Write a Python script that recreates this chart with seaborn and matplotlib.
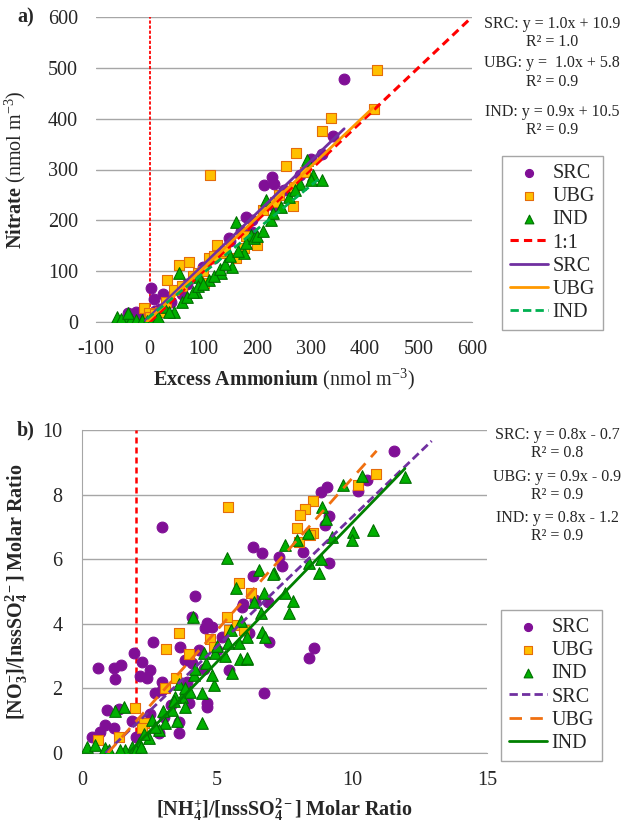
import numpy as np
import pandas as pd
import matplotlib
matplotlib.use("Agg")
import matplotlib.pyplot as plt
import seaborn as sns

# ---- panel a) data: excess ammonium vs nitrate (nmol m-3) ----
src_a_x = [362, 342, 321, 227, 212, 232, 234, 180, 191, 147, 2, 8, 24, -41, -26, 20, 40, 60, 70, 90,
           100, 120, 130, 150, 170, 190, 250, 280, 300, -15, 10]
src_a_y = [478, 366, 331, 286, 269, 272, 227, 207, 178, 165, 66, 45, 56, 17, 19, 25, 40, 55, 75, 95,
           108, 125, 140, 160, 180, 200, 260, 290, 320, 8, 22]

ubg_a_x = [424, 417, 338, 321, 273, 254, 112, 290, 268, 266, 234, 200, 126, 175, 73, 54, 33, 110, 160,
           89, 45, 101, -11, -1, 138, 0, 10, 20, 30, 60, 80, 100, 120, 140, 180, 210, 240]
ubg_a_y = [496, 420, 401, 375, 332, 307, 289, 296, 265, 229, 237, 152, 152, 145, 119, 112, 83, 125, 125,
           96, 63, 76, 27, 17, 135, 10, 15, 20, 40, 70, 90, 100, 130, 140, 170, 220, 250]

ind_a_x = [292, 304, 320, 279, 216, 245, 160, 188, 175, 154, 132, 110, 92, 54, 86, 45, 27, -45, -61, -54,
           -35, -25, -15, -5, 5, -41, 60, 70, 80, 90, 100, 120, 130, 140, 150, 165, 180, 195, 200, 210,
           225, 230, 260, 270, 300, 15, 35]
ind_a_y = [319, 289, 280, 272, 240, 227, 197, 171, 135, 109, 96, 83, 89, 96, 60, 19, 30, 7, 10, 5,
           5, 3, 3, 2, 4, 17, 40, 50, 60, 70, 75, 90, 105, 115, 130, 140, 155, 165, 170, 180,
           200, 215, 245, 260, 280, 10, 20]

# fit lines: slope, intercept, x range
fit_a = {
    "SRC": (1.02, 10.9, [-8, 362]),
    "UBG": (1.0, 5.8, [-5, 416]),
    "IND": (0.86, 10.5, [-5, 318]),
}
eq_a = ["SRC: y = 1.0x + 10.9", "R\u00b2 = 1.0",
        "UBG: y =  1.0x + 5.8", "R\u00b2 = 0.9",
        "IND: y = 0.9x + 10.5", "R\u00b2 = 0.9"]

# ---- panel b) data: molar ratios ----
src_b_x = [2.96, 6.32, 6.67, 4.17, 7.28, 4.07, 4.63, 4.57, 2.62, 1.91, 2.22, 2.53, 2.16, 2.41, 0.59,
           1.20, 1.46, 1.23, 2.96, 3.64, 4.32, 3.83, 6.73, 0.93, 1.36, 0.86, 1.17, 0.37, 0.68, 3.58,
           3.58, 4.63, 4.63, 3.95, 2.84, 3.02, 2.72, 2.96, 4.07, 5.43, 6.17, 6.91, 5.93, 6.42, 1.85,
           11.57, 10.54, 10.23, 9.06, 8.85, 9.16, 9.00, 7.39, 8.20, 9.16, 6.32, 6.90, 8.59, 8.40, 5.95,
           4.5, 5.0, 5.2, 3.3, 3.9, 4.8, 2.0, 2.5]
src_b_y = [7.01, 6.37, 6.18, 4.86, 6.08, 4.22, 4.01, 3.86, 3.44, 3.09, 2.83, 2.57, 2.38, 2.31, 2.64,
           2.64, 2.72, 2.28, 2.20, 3.29, 3.19, 2.87, 1.87, 1.33, 1.36, 0.87, 0.77, 0.50, 0.66, 0.61,
           0.97, 1.54, 1.43, 1.54, 0.61, 1.10, 1.85, 1.94, 2.78, 2.57, 3.70, 3.45, 4.53, 4.73, 1.00,
           9.34, 8.45, 8.10, 8.25, 8.09, 7.34, 7.06, 5.79, 6.23, 5.87, 5.48, 4.68, 3.24, 2.93, 4.60,
           2.6, 3.2, 3.6, 1.5, 2.2, 3.9, 0.5, 1.2]

ubg_b_x = [5.41, 5.80, 6.27, 5.37, 5.43, 5.74, 3.60, 4.73, 3.11, 3.98, 3.48, 3.09, 1.95, 2.28, 2.22,
           0.59, 1.38, 4.88, 10.89, 10.21, 8.57, 8.26, 8.07, 7.95, 8.57, 8.44, 8.05, 6.00]
ubg_b_y = [7.61, 5.27, 4.96, 4.22, 3.81, 3.96, 3.73, 3.53, 3.22, 3.07, 2.31, 2.00, 1.38, 0.92, 0.78,
           0.40, 0.50, 3.29, 8.64, 8.30, 7.81, 7.54, 7.37, 6.96, 6.80, 6.75, 6.54, 3.81]

ind_b_x = [5.37, 6.54, 7.10, 5.70, 6.73, 6.36, 4.11, 6.67, 6.79, 5.41, 4.51, 4.94, 5.86, 6.11, 5.56,
           4.88, 4.44, 3.70, 4.14, 3.58, 4.44, 1.54, 1.23, 0.19, 0.49, 0.86, 1.85, 2.47, 3.09, 3.33,
           3.83, 2.59, 2.84, 1.60, 2.10, 3.46, 11.96, 10.36, 9.65, 8.88, 9.04, 8.37, 10.79, 10.02, 9.99,
           9.25, 7.52, 7.95, 8.85, 8.42, 8.79, 7.09, 7.50, 7.83, 7.68, 6.63, 6.10,
           2.0, 2.3, 2.7, 3.0, 3.4, 3.8, 4.2, 4.6, 5.0, 5.3, 5.8, 6.1, 1.0, 1.4, 2.2, 4.0, 5.5, 5.9, 3.5, 4.8]
ind_b_y = [6.03, 5.67, 5.57, 5.10, 4.95, 4.68, 4.22, 3.76, 3.60, 3.40, 3.10, 3.10, 2.92, 2.90, 2.47,
           2.10, 1.85, 1.74, 2.40, 2.14, 0.94, 1.43, 1.29, 0.20, 0.24, 0.15, 0.20, 0.45, 0.92, 1.33,
           1.43, 1.02, 0.72, 0.10, 0.30, 1.74, 8.55, 8.57, 8.30, 7.61, 7.23, 6.80, 6.90, 6.85, 6.59,
           6.69, 6.44, 6.59, 6.00, 5.87, 5.58, 5.54, 4.94, 4.72, 4.32, 4.32, 2.93,
           0.1, 0.6, 0.8, 1.3, 1.6, 2.0, 2.6, 2.8, 3.3, 3.0, 3.4, 3.6, 0.1, 0.1, 0.2, 1.9, 3.8, 4.1, 1.0, 2.4]

fit_b = {
    "SRC": (0.8, -0.7, [0.875, 12.95]),
    "UBG": (0.94, -0.9, [0.96, 10.91]),
    "IND": (0.86, -1.48, [1.72, 11.96]),
}
eq_b = ["SRC: y = 0.8x - 0.7", "R\u00b2 = 0.8",
        "UBG: y = 0.9x - 0.9", "R\u00b2 = 0.9",
        "IND: y = 0.8x - 1.2", "R\u00b2 = 0.9"]

sns.set_style("white")
plt.rcParams['font.family'] = ['Liberation Serif', 'DejaVu Serif']
plt.rcParams['mathtext.fontset'] = 'custom'
plt.rcParams['mathtext.rm'] = 'Liberation Serif'
plt.rcParams['mathtext.bf'] = 'Liberation Serif:bold'
plt.rcParams['mathtext.it'] = 'Liberation Serif:italic'
plt.rcParams['axes.unicode_minus'] = False

GRID = '#a6a6a6'
FS = 14.5
EQ_FS = 11.5

def group_frame(xs, ys, name):
    return pd.DataFrame({"x": xs, "y": ys, "site": name})

marker_styles = {
    "SRC": dict(marker='o', color='#800f96', edgecolor='#800f96', s=60),
    "UBG": dict(marker='s', color='#ffc000', edgecolor='#e46c0a', s=60),
    "IND": dict(marker='^', color='#00b000', edgecolor='#006f00', s=70),
}

fig = plt.figure(figsize=(6.23, 8.25), dpi=100)
ax1 = fig.add_axes([96/623, 1-322/825, 376/623, 305/825])
ax2 = fig.add_axes([82/623, 1-753/825, 405/623, 323/825])

# ---------- panel a ----------
for name, xs, ys in [("SRC", src_a_x, src_a_y), ("UBG", ubg_a_x, ubg_a_y), ("IND", ind_a_x, ind_a_y)]:
    sns.scatterplot(data=group_frame(xs, ys, name), x="x", y="y", ax=ax1, label=name,
                    linewidth=0.8, zorder=3, **marker_styles[name])

one = np.array([0, 600])
ax1.plot(one, one, color='red', lw=2.2, dashes=(2.7, 1.7), label='1:1', zorder=4)
ax1.plot([0, 0], [0, 600], color='red', lw=1.3, dashes=(1.8, 1.0), label='_nolegend_', zorder=2)
line_a_style = {"SRC": dict(color='#7030a0', ls='-'),
                "UBG": dict(color='#ff9900', ls='-'),
                "IND": dict(color='#00b050', dashes=(3, 1.5))}
for name, (m, b, xr) in fit_a.items():
    xr = np.array(xr)
    ax1.plot(xr, m*xr + b, lw=2, label=name, zorder=4, **line_a_style[name])

ax1.set_xlim(-100, 600)
ax1.set_ylim(0, 600)
ax1.set_xticks(range(-100, 601, 100))
ax1.set_yticks(range(0, 601, 100))
ax1.yaxis.grid(True, color=GRID, lw=1)
ax1.set_axisbelow(True)
for sp in ['left', 'right', 'top']:
    ax1.spines[sp].set_visible(False)
ax1.spines['bottom'].set_color(GRID)
ax1.tick_params(axis='x', length=5, color=GRID, direction='out', pad=8, labelsize=FS)
ax1.tick_params(axis='y', length=0, pad=13, labelsize=FS)
ax1.set_xlabel(r"$\mathbf{Excess\ Ammonium}$ (nmol m$^{-3}$)", fontsize=FS)
ax1.set_ylabel(r"$\mathbf{Nitrate}$ (nmol m$^{-3}$)", fontsize=FS)
ax1.xaxis.set_label_coords(0.5, -0.148)
ax1.yaxis.set_label_coords(-0.181, 0.5)
h, l = ax1.get_legend_handles_labels()
leg1 = ax1.legend(h, l, loc='upper left', bbox_to_anchor=(502/623, 1-156/825),
                  bbox_transform=fig.transFigure, fontsize=FS, frameon=True, fancybox=False,
                  edgecolor='#a6a6a6', framealpha=1, handlelength=1.9, handletextpad=0.2,
                  labelspacing=0.2, borderpad=0.4, borderaxespad=0, markerscale=0.75)
leg1.get_frame().set_linewidth(1)

# ---------- panel b ----------
for name, xs, ys in [("SRC", src_b_x, src_b_y), ("UBG", ubg_b_x, ubg_b_y), ("IND", ind_b_x, ind_b_y)]:
    sns.scatterplot(data=group_frame(xs, ys, name), x="x", y="y", ax=ax2, label=name,
                    linewidth=0.8, zorder=3, **marker_styles[name])

ax2.plot([2, 2], [0, 10], color='red', lw=1.8, dashes=(2.4, 1.6), label='_nolegend_', zorder=2)
line_b_style = {"SRC": dict(color='#7030a0', dashes=(3, 1.5)),
                "UBG": dict(color='#f07010', dashes=(4.5, 3)),
                "IND": dict(color='#008000', ls='-')}
for name, (m, b, xr) in fit_b.items():
    xr = np.array(xr)
    ax2.plot(xr, m*xr + b, lw=2, label=name, zorder=4, **line_b_style[name])

ax2.set_xlim(0, 15)
ax2.set_ylim(0, 10)
ax2.set_xticks([0, 5, 10, 15])
ax2.set_yticks(range(0, 11, 2))
ax2.yaxis.grid(True, color=GRID, lw=1)
ax2.set_axisbelow(True)
for sp in ['right', 'top']:
    ax2.spines[sp].set_visible(False)
for sp in ['left', 'bottom']:
    ax2.spines[sp].set_color(GRID)
ax2.tick_params(axis='both', length=5, color=GRID, direction='out', labelsize=FS)
ax2.tick_params(axis='x', pad=8)
ax2.tick_params(axis='y', pad=9)
ax2.set_xlabel(r"$\mathbf{[NH_4^{+}]/[nssSO_4^{2-}]\ Molar\ Ratio}$", fontsize=FS)
ax2.set_ylabel(r"$\mathbf{[NO_3^{-}]/[nssSO_4^{2-}]\ Molar\ Ratio}$", fontsize=FS)
ax2.xaxis.set_label_coords(0.5, -0.135)
ax2.yaxis.set_label_coords(-0.128, 0.5)
h, l = ax2.get_legend_handles_labels()
leg2 = ax2.legend(h, l, loc='upper left', bbox_to_anchor=(501/623, 1-610/825),
                  bbox_transform=fig.transFigure, fontsize=FS, frameon=True, fancybox=False,
                  edgecolor='#a6a6a6', framealpha=1, handlelength=1.9, handletextpad=0.2,
                  labelspacing=0.2, borderpad=0.4, borderaxespad=0, markerscale=0.75)
leg2.get_frame().set_linewidth(1)

# ---------- equations and panel labels ----------
eq_a_y = [24, 42, 63, 82, 112, 130]
for txt, py in zip(eq_a, eq_a_y):
    fig.text(552/623, 1-py/825, txt, ha='center', va='center', fontsize=EQ_FS)
eq_b_y = [435, 453, 477, 495, 518, 536]
for txt, py in zip(eq_b, eq_b_y):
    fig.text(557/623, 1-py/825, txt, ha='center', va='center', fontsize=EQ_FS)

fig.text(26/623, 1-17/825, "a)", ha='center', va='center', fontsize=FS, fontweight='bold')
fig.text(26/623, 1-430/825, "b)", ha='center', va='center', fontsize=FS, fontweight='bold')

fig.savefig("out.png", dpi=100)
